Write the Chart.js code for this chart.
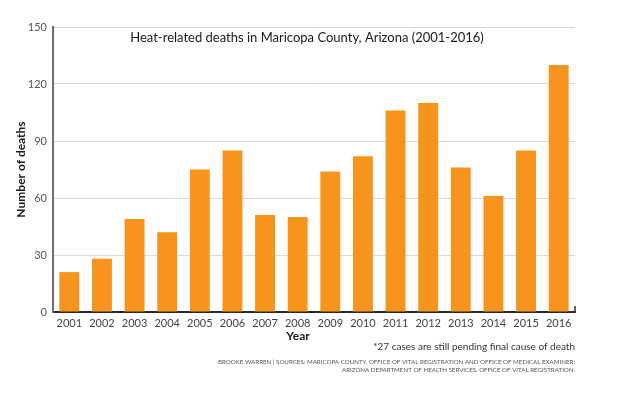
<!DOCTYPE html>
<html lang="en">
<head>
    <meta charset="UTF-8">
    <title>Heat-related deaths in Maricopa County, Arizona (2001-2016)</title>
    <script src="https://cdn.jsdelivr.net/npm/chart.js"></script>
    <style>
        body { margin: 0; background: #fff; overflow: hidden; }
    </style>
</head>
<body>

    <canvas id="heatChart" width="620" height="397"></canvas>

    <script>
        // data
        const years = ["2001", "2002", "2003", "2004", "2005", "2006", "2007", "2008",
                       "2009", "2010", "2011", "2012", "2013", "2014", "2015", "2016"];
        const deaths = [21, 28, 49, 42, 75, 85, 51, 50, 74, 82, 106, 110, 76, 61, 85, 130];
        const yTicks = [0, 30, 60, 90, 120, 150];

        const chartTitle = "Heat-related deaths in Maricopa County, Arizona (2001-2016)";
        const xTitle = "Year";
        const yTitle = "Number of deaths";
        const footnote = "*27 cases are still pending final cause of death";
        const sources = [
            "BROOKE WARREN | SOURCES: MARICOPA COUNTY, OFFICE OF VITAL REGISTRATION AND OFFICE OF MEDICAL EXAMINER;",
            "ARIZONA DEPARTMENT OF HEALTH SERVICES, OFFICE OF VITAL REGISTRATION."
        ];

        const FONT = "Lato, 'DejaVu Sans', sans-serif";

        // title inside the plot, the Year label, the notes under the chart
        const textPlugin = {
            id: "extraText",
            afterDraw(chart) {
                const ctx = chart.ctx;
                const area = chart.chartArea;
                ctx.save();

                // small end tick on the right of the x axis
                ctx.strokeStyle = "#333";
                ctx.lineWidth = 1.5;
                ctx.beginPath();
                ctx.moveTo(area.right, area.bottom + 1);
                ctx.lineTo(area.right, area.bottom - 6);
                ctx.stroke();

                ctx.fillStyle = "#1a1a1a";
                ctx.textBaseline = "middle";
                ctx.textAlign = "center";
                ctx.font = "13px " + FONT;
                ctx.fillText(chartTitle, 307, area.top + 11);

                ctx.font = "bold 12px " + FONT;
                ctx.fillText(xTitle, 298, 336);

                ctx.textAlign = "right";
                ctx.fillStyle = "#333";
                ctx.font = "10px " + FONT;
                ctx.fillText(footnote, area.right, 347);

                ctx.fillStyle = "#555";
                ctx.font = "6.2px " + FONT;
                ctx.fillText(sources[0], area.right, 362);
                ctx.fillText(sources[1], area.right, 370);
                ctx.restore();
            }
        };

        const ctx = document.getElementById("heatChart").getContext("2d");

        new Chart(ctx, {
            type: "bar",
            data: {
                labels: years,
                datasets: [{
                    label: "Deaths",
                    data: deaths,
                    backgroundColor: "#f7941d",
                    borderWidth: 0,
                    barPercentage: 0.61,
                    categoryPercentage: 1.0
                }]
            },
            options: {
                responsive: false,
                animation: false,
                layout: { padding: { left: 8, right: 45, top: 27, bottom: 0 } },
                plugins: {
                    legend: { display: false },
                    tooltip: { enabled: false }
                },
                scales: {
                    x: {
                        grid: { display: false, drawTicks: false },
                        border: { display: true, color: "#2a2a2a", width: 2 },
                        ticks: {
                            color: "#444",
                            font: { family: FONT, size: 11 },
                            padding: 5,
                            maxRotation: 0,
                            autoSkip: false
                        },
                        afterFit: s => { s.height = 85; }
                    },
                    y: {
                        min: 0,
                        max: 150,
                        afterBuildTicks: s => { s.ticks = yTicks.map(v => ({ value: v })); },
                        grid: { color: "#d9d9d9", lineWidth: 1, drawTicks: false },
                        border: { display: true, color: "#6e6e6e", width: 2 },
                        ticks: {
                            color: "#555",
                            font: { family: FONT, size: 11 },
                            padding: 6
                        },
                        title: {
                            display: true,
                            text: yTitle,
                            color: "#1a1a1a",
                            font: { family: FONT, size: 12, weight: "bold" },
                            padding: { top: 6, bottom: 0 }
                        },
                        afterFit: s => { s.width = 45; }
                    }
                }
            },
            plugins: [textPlugin]
        });
    </script>

</body>
</html>
